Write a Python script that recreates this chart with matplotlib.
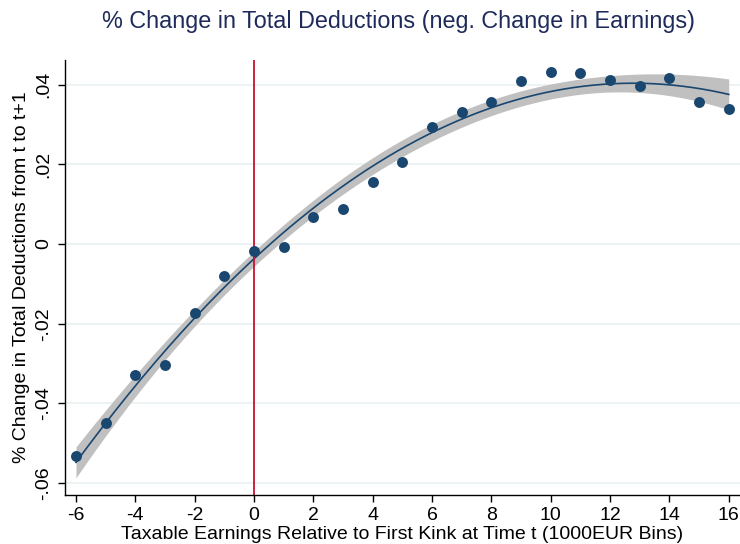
import numpy as np
import matplotlib
matplotlib.use("Agg")
import matplotlib.pyplot as plt

plt.rcParams['font.family'] = ['Liberation Sans Narrow', 'Liberation Sans', 'DejaVu Sans']

bins = [-6, -5, -4, -3, -2, -1, 0, 1, 2, 3, 4, 5, 6, 7, 8, 9, 10, 11, 12, 13, 14, 15, 16]
pct_change = [-0.0531, -0.0448, -0.0330, -0.0303, -0.0174, -0.0080, -0.0018, -0.0008,
              0.0068, 0.0087, 0.0156, 0.0207, 0.0294, 0.0331, 0.0356, 0.0410, 0.0431,
              0.0430, 0.0412, 0.0396, 0.0418, 0.0356, 0.0338]
xticks = [-6, -4, -2, 0, 2, 4, 6, 8, 10, 12, 14, 16]
yticks = [-0.06, -0.04, -0.02, 0.0, 0.02, 0.04]
ytick_labels = ['-.06', '-.04', '-.02', '0', '.02', '.04']

navy = '#1a476f'
x = np.array(bins, dtype=float)
y = np.array(pct_change)

# quadratic fit with 95% CI of mean prediction
X = np.column_stack([np.ones_like(x), x, x**2])
beta, *_ = np.linalg.lstsq(X, y, rcond=None)
resid = y - X @ beta
n, k = X.shape
s2 = resid @ resid / (n - k)
XtXi = np.linalg.inv(X.T @ X)
xs = np.linspace(x.min(), x.max(), 200)
Xs = np.column_stack([np.ones_like(xs), xs, xs**2])
fit = Xs @ beta
se = np.sqrt(s2 * np.einsum('ij,jk,ik->i', Xs, XtXi, Xs))
tcrit = 2.086
lo, hi = fit - tcrit * se, fit + tcrit * se

fig = plt.figure(figsize=(7.4, 5.44), dpi=100)
ax = fig.add_axes([65/740, 49/544, 675/740, 435/544])

ax.fill_between(xs, lo, hi, color='#c0c0c0', lw=0, zorder=1)
ax.plot(xs, fit, color=navy, lw=1.2, zorder=2)
ax.scatter(x, y, s=62, color=navy, zorder=3, lw=0)
ax.axvline(0, color='#c8102e', lw=1.3, zorder=2.5)

ax.set_xlim(-6.37, 16.38)
ax.set_ylim(-0.063, 0.0462)
ax.set_xticks(xticks)
ax.set_xticklabels([str(t) for t in xticks])
ax.set_yticks(yticks)
ax.set_yticklabels(ytick_labels, rotation=90, va='center')
ax.grid(axis='y', color='#eaf0f4', lw=1.2, zorder=0)
ax.set_axisbelow(True)
for s in ['top', 'right']:
    ax.spines[s].set_visible(False)
for s in ['left', 'bottom']:
    ax.spines[s].set_linewidth(1.0)
ax.tick_params(axis='both', labelsize=14, length=5, width=1, color='black', pad=4)

ax.set_xlabel('Taxable Earnings Relative to First Kink at Time t (1000EUR Bins)', fontsize=14, labelpad=1)
ax.set_ylabel('% Change in Total Deductions from t to t+1', fontsize=14, labelpad=4)
fig.text(0.538, 0.96, '% Change in Total Deductions (neg. Change in Earnings)',
         ha='center', va='center', fontsize=16.8, color='#1e2b5a',
         family=['Liberation Sans', 'DejaVu Sans'])

fig.savefig('out.png', dpi=100)
